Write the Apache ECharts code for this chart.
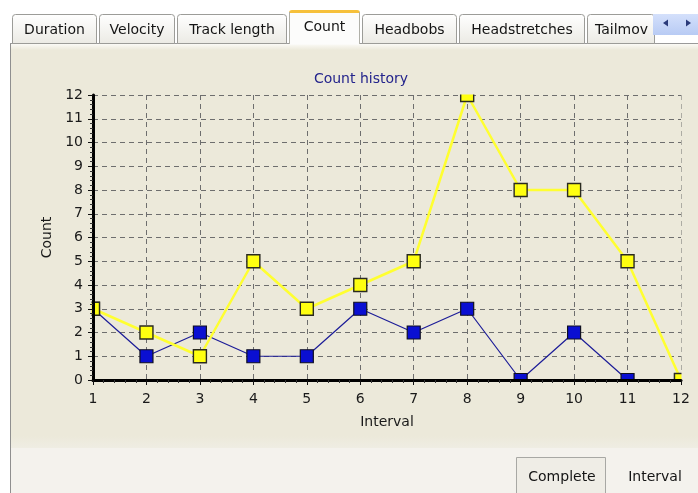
<!DOCTYPE html>
<html><head><meta charset="utf-8">
<script src="https://cdn.jsdelivr.net/npm/echarts@6/dist/echarts.min.js"></script>
<style>html,body{margin:0;padding:0;background:#fff}#c{width:698px;height:493px}</style>
</head><body><div id="c"></div>
<script>
// ---- data ----
const intervals = [1, 2, 3, 4, 5, 6, 7, 8, 9, 10, 11, 12];
const yellowCounts = [3, 2, 1, 5, 3, 4, 5, 12, 8, 8, 5, 0];
const blueCounts = [3, 1, 2, 1, 1, 3, 2, 3, 0, 2, 0, 0];
const yTickLabels = ['0','1','2','3','4','5','6','7','8','9','10','11','12'];
const tabNames = ['Duration', 'Velocity', 'Track length', 'Count', 'Headbobs', 'Headstretches', 'Tailmov'];
const selectedTab = 'Count';
const buttonNames = ['Complete', 'Interval'];
const chartTitle = 'Count history';
const xName = 'Interval';
const yName = 'Count';

// ---- layout / style ----
const FONT = 'DejaVu Sans';
const PANEL = '#ece9da';
const LOWER = '#f4f2ed';
const tabEdges = [12, 97, 175, 287, 360, 457, 585, 655];

const graphics = [];
// lower region + panel
graphics.push({type:'rect', z:-20, shape:{x:10,y:43,width:688,height:450}, style:{fill:LOWER}});
graphics.push({type:'rect', z:-19, shape:{x:11,y:44,width:687,height:404},
  style:{fill:{type:'linear',x:0,y:0,x2:0,y2:1,colorStops:[{offset:0,color:'#fbfaf6'},{offset:0.015,color:PANEL},{offset:0.97,color:PANEL},{offset:1,color:'#efede3'}]}}});
graphics.push({type:'line', z:-18, shape:{x1:10.5,y1:43,x2:10.5,y2:493}, style:{stroke:'#8f8f8f',lineWidth:1}});
graphics.push({type:'line', z:-18, shape:{x1:10,y1:43.5,x2:698,y2:43.5}, style:{stroke:'#9a9a9a',lineWidth:1}});
// tabs
tabNames.forEach((name, i) => {
  const x0 = tabEdges[i] + (i > 0 ? 2 : 0), x1 = tabEdges[i + 1];
  const sel = name === selectedTab;
  const top = sel ? 10 : 14;
  graphics.push({type:'rect', z:-15, shape:{x:x0+0.5,y:top+0.5,width:x1-x0-1,height:(sel?44:43)-top,r:[3,3,0,0]},
    style:{fill: sel ? '#fcfcfb' : {type:'linear',x:0,y:0,x2:0,y2:1,colorStops:[{offset:0,color:'#ffffff'},{offset:1,color:'#ebeae4'}]},
      stroke: sel ? 'none' : '#9c9c98', lineWidth:1}});
  if (sel) {
    graphics.push({type:'rect', z:-14, shape:{x:x0,y:top,width:x1-x0,height:3,r:[3,3,0,0]}, style:{fill:'#f6c03a'}});
    graphics.push({type:'line', z:-14, shape:{x1:x0+0.5,y1:top+2,x2:x0+0.5,y2:44}, style:{stroke:'#b0b0a8'}});
    graphics.push({type:'line', z:-14, shape:{x1:x1-0.5,y1:top+2,x2:x1-0.5,y2:44}, style:{stroke:'#b0b0a8'}});
  }
  const tx = name === 'Tailmov' ? x0 + 8 : (x0 + x1) / 2;
  graphics.push({type:'text', z:-13, style:{text:name, x:tx, y:sel?27:30, align:name==='Tailmov'?'left':'center', verticalAlign:'middle',
    font:'14px "'+FONT+'"', fill:'#141414'}});
});
// scroll arrows
graphics.push({type:'rect', z:-12, shape:{x:653,y:14,width:45,height:21},
  style:{fill:{type:'linear',x:0,y:0,x2:0,y2:1,colorStops:[{offset:0,color:'#d4e0fb'},{offset:1,color:'#b8cbf4'}]}}});
graphics.push({type:'polygon', z:-11, shape:{points:[[663,23],[668,19.5],[668,26.5]]}, style:{fill:'#2a3a7a'}});
graphics.push({type:'polygon', z:-11, shape:{points:[[691,23],[686,19.5],[686,26.5]]}, style:{fill:'#2a3a7a'}});
// buttons
graphics.push({type:'rect', z:-12, shape:{x:516.5,y:457.5,width:89,height:40},
  style:{fill:'#efede6', stroke:'#a8a8a4', lineWidth:1}});
graphics.push({type:'text', z:-11, style:{text:buttonNames[0], x:562, y:477, align:'center', verticalAlign:'middle', font:'14px "'+FONT+'"', fill:'#141414'}});
graphics.push({type:'text', z:-11, style:{text:buttonNames[1], x:655, y:477, align:'center', verticalAlign:'middle', font:'14px "'+FONT+'"', fill:'#141414'}});
// clip covers around the plot (markers are cut at the plot border)
graphics.push({type:'rect', z:3, shape:{x:84,y:381.5,width:610,height:9}, style:{fill:PANEL}});
graphics.push({type:'rect', z:3, shape:{x:84,y:86,width:610,height:8.5}, style:{fill:PANEL}});
graphics.push({type:'rect', z:3, shape:{x:681.5,y:86,width:12,height:305}, style:{fill:PANEL}});
graphics.push({type:'rect', z:3, shape:{x:84,y:86,width:7.5,height:305}, style:{fill:PANEL}});

const baseAxis = {type:'value', min:1, max:12, interval:1};
const labelFont = {fontFamily:FONT, fontSize:14, color:'#1a1a1a'};
const option = {
  animation:false,
  backgroundColor:'#ffffff',
  title:{text:chartTitle, left:356, top:67, textAlign:'center',
    textStyle:{fontFamily:FONT, fontSize:14, fontWeight:'normal', color:'#24248c'}},
  grid:{left:93, right:17, top:95, bottom:113, containLabel:false},
  graphic:{elements:graphics},
  xAxis:[
    Object.assign({}, baseAxis, {position:'bottom', z:0, axisLine:{show:false}, axisTick:{show:false}, axisLabel:{show:false},
      splitLine:{show:true, lineStyle:{color:'#6e6e6e', type:[5,4], width:1}}}),
    Object.assign({}, baseAxis, {position:'bottom', z:5,
      name:xName, nameLocation:'middle', nameGap:35, nameTextStyle:labelFont,
      axisLine:{show:true, onZero:false, lineStyle:{color:'#000', width:3}},
      axisTick:{show:true, length:5, inside:false, lineStyle:{color:'#111', width:1}},
      minorTick:{show:true, splitNumber:5, length:3, lineStyle:{color:'#333'}},
      axisLabel:Object.assign({margin:12, formatter:v => String(v)}, labelFont),
      splitLine:{show:false}})
  ],
  yAxis:[
    {type:'value', min:0, max:12, interval:1, position:'left', z:0, axisLine:{show:false}, axisTick:{show:false}, axisLabel:{show:false},
      splitLine:{show:true, lineStyle:{color:'#6e6e6e', type:[5,4], width:1}}},
    {type:'value', min:0, max:12, interval:1, position:'left', z:5,
      name:yName, nameLocation:'middle', nameGap:37, nameRotate:90, nameTextStyle:labelFont,
      axisLine:{show:true, onZero:false, lineStyle:{color:'#000', width:3}},
      axisTick:{show:true, length:5, lineStyle:{color:'#111', width:1}},
      minorTick:{show:true, splitNumber:5, length:3, lineStyle:{color:'#333'}},
      axisLabel:Object.assign({margin:10, formatter:v => yTickLabels[v]}, labelFont),
      splitLine:{show:false}}
  ],
  series:[
    {type:'line', xAxisIndex:0, yAxisIndex:0, z:2, data:intervals.map((x,i)=>[x, blueCounts[i]]),
      symbol:'rect', symbolSize:13, showAllSymbol:true, clip:false,
      lineStyle:{color:'#1c1c98', width:1.2},
      itemStyle:{color:'#0a0fd2', borderColor:'#101020', borderWidth:1.2}},
    {type:'line', xAxisIndex:0, yAxisIndex:0, z:2, data:intervals.map((x,i)=>[x, yellowCounts[i]]),
      symbol:'rect', symbolSize:13, showAllSymbol:true, clip:false,
      lineStyle:{color:'#ffff30', width:2.5},
      itemStyle:{color:'#ffff10', borderColor:'#2a2a20', borderWidth:1.4}}
  ]
};
const chart = echarts.init(document.getElementById('c'), null, {renderer:'canvas'});
chart.setOption(option);
</script>
</body></html>
